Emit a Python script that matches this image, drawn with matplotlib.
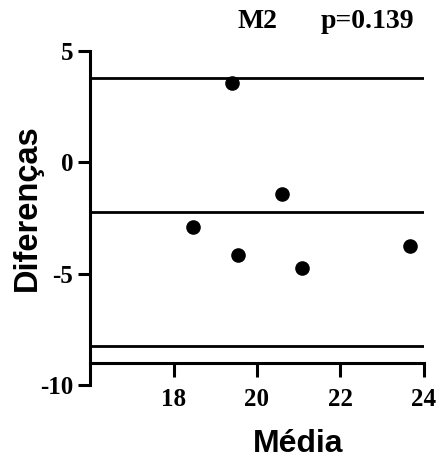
import matplotlib
matplotlib.use('Agg')
import matplotlib.pyplot as plt

# Bland-Altman data
media = [19.41, 20.61, 18.46, 19.55, 21.07, 23.67]
diferencas = [3.56, -1.45, -2.91, -4.16, -4.76, -3.74]
vies = -2.22
limite_sup = 3.78
limite_inf = -8.27

xticks = [18, 20, 22, 24]
yticks = [5, 0, -5, -10]

serif = ['Liberation Serif', 'DejaVu Serif']
sans = ['Liberation Sans', 'DejaVu Sans']

plt.rcParams['axes.unicode_minus'] = False

fig = plt.figure(figsize=(4.38, 4.57), dpi=100)
ax = fig.add_axes([0.2055, 0.1575, 0.7625, 0.7315])

for y in (limite_sup, vies, limite_inf):
    ax.axhline(y, color='black', linewidth=2.0, zorder=1)

ax.scatter(media, diferencas, s=90, color='black', zorder=3)

ax.set_xlim(16, 24)
ax.set_ylim(-10, 5)
ax.set_xticks(xticks)
ax.set_yticks(yticks)

ax.spines['top'].set_visible(False)
ax.spines['right'].set_visible(False)
ax.spines['left'].set_linewidth(2.2)
ax.spines['bottom'].set_linewidth(2.2)
ax.spines['bottom'].set_position(('data', -9))
ax.spines['bottom'].set_bounds(16, 24)

ax.tick_params(axis='both', direction='out', width=2.2, length=9, pad=3)
ax.tick_params(axis='x', length=10, pad=8)
for lab in ax.get_xticklabels() + ax.get_yticklabels():
    lab.set_family(serif)
    lab.set_fontweight('bold')
    lab.set_fontsize(18)

fig.text(0.587, 0.938, 'M2', family=serif, fontweight='bold', fontsize=20,
         ha='center', va='baseline')
fig.text(0.838, 0.938, 'p=0.139', family=serif, fontweight='bold', fontsize=20,
         ha='center', va='baseline')

fig.text(0.062, 0.545, 'Diferenças', family=sans, fontweight='bold', fontsize=23.5,
         rotation=90, ha='center', va='center')
fig.text(0.68, 0.012, 'Média', family=sans, fontweight='bold', fontsize=23,
         ha='center', va='baseline')

fig.savefig('out.png', dpi=100)
